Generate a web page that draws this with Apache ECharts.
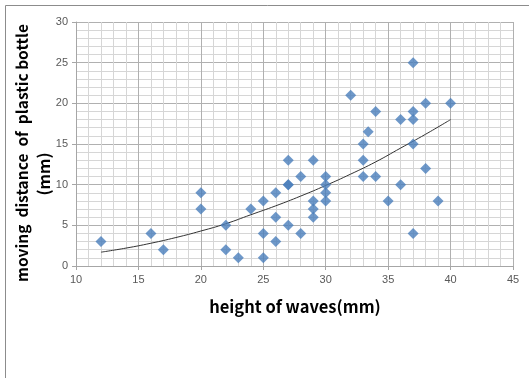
<!DOCTYPE html>
<html>
<head>
<meta charset="utf-8">
<script src="https://cdn.jsdelivr.net/npm/echarts@6/dist/echarts.min.js"></script>
<style>
  html, body { margin: 0; padding: 0; background: #fff; }
  #chart { width: 529px; height: 378px; }
</style>
</head>
<body>
<div id="chart"></div>
<script>
// wave height (mm) vs moving distance (mm)
const waveHeight = [12, 16, 17, 20, 20, 22, 22, 23, 24, 25, 25, 25, 26, 26, 26, 27, 27, 27, 27,
    28, 28, 29, 29, 29, 29, 30, 30, 30, 30, 32, 33, 33, 33, 33.4, 34, 34, 35, 36, 36,
    37, 37, 37, 37, 37, 38, 38, 39, 40];
const movingDistance = [3, 4, 2, 9, 7, 5, 2, 1, 7, 8, 4, 1, 9, 6, 3, 13, 10, 10, 5,
    11, 4, 13, 8, 7, 6, 11, 10, 9, 8, 21, 15, 13, 11, 16.5, 19, 11, 8, 18, 10,
    25, 19, 18, 15, 4, 20, 12, 8, 20];

// trend line as drawn in the picture
const trendX = [12, 14, 16, 18, 20, 22, 24, 26, 28, 30, 32, 34, 36, 38, 40];
const trendY = [1.7, 2.2, 2.8, 3.5, 4.3, 5.2, 6.3, 7.4, 8.6, 9.9, 11.3, 12.8, 14.5, 16.2, 18.0];

const xTicks = [10, 15, 20, 25, 30, 35, 40, 45];
const yTicks = [0, 5, 10, 15, 20, 25, 30];

const titleFont = '"Noto Sans CJK JP", "DejaVu Sans", sans-serif';

const myChart = echarts.init(document.getElementById('chart'));

const option = {
    animation: false,
    backgroundColor: '#fff',
    grid: {
        left: 76,
        right: 16,
        top: 22,
        bottom: 112
    },
    xAxis: {
        type: 'value',
        min: xTicks[0],
        max: xTicks[xTicks.length - 1],
        interval: 5,
        axisLine: { show: true, lineStyle: { color: '#a6a6a6', width: 1 } },
        axisTick: { show: true, length: 4, lineStyle: { color: '#a6a6a6' } },
        axisLabel: { color: '#595959', fontSize: 11, margin: 8, fontFamily: 'Liberation Sans' },
        splitLine: { show: true, lineStyle: { color: '#b0b0b0', width: 1 } },
        minorTick: { show: false, splitNumber: 5 },
        minorSplitLine: { show: true, lineStyle: { color: '#d6d6d6', width: 1 } }
    },
    yAxis: {
        type: 'value',
        min: yTicks[0],
        max: yTicks[yTicks.length - 1],
        interval: 5,
        axisLine: { show: true, lineStyle: { color: '#a6a6a6', width: 1 } },
        axisTick: { show: true, length: 4, lineStyle: { color: '#a6a6a6' } },
        axisLabel: { color: '#595959', fontSize: 11, margin: 8, fontFamily: 'Liberation Sans' },
        splitLine: { show: true, lineStyle: { color: '#b0b0b0', width: 1 } },
        minorTick: { show: false, splitNumber: 5 },
        minorSplitLine: { show: true, lineStyle: { color: '#d6d6d6', width: 1 } }
    },
    series: [
        {
            type: 'line',
            data: trendX.map((x, i) => [x, trendY[i]]),
            smooth: true,
            showSymbol: false,
            lineStyle: { color: '#333', width: 1 },
            z: 3
        },
        {
            type: 'scatter',
            data: waveHeight.map((x, i) => [x, movingDistance[i]]),
            symbol: 'diamond',
            symbolSize: 11,
            itemStyle: { color: '#4a7ebb' },
            z: 4
        }
    ],
    graphic: [
        {
            type: 'rect',
            shape: { x: 5.5, y: 5.5, width: 540, height: 400 },
            style: { fill: 'none', stroke: '#8c8c8c', lineWidth: 1 },
            silent: true
        },
        {
            type: 'text',
            x: 295,
            y: 307,
            style: {
                text: 'height of waves(mm)',
                font: 'bold 16.5px ' + titleFont,
                fill: '#000',
                align: 'center',
                verticalAlign: 'middle'
            }
        },
        {
            type: 'text',
            x: 22,
            y: 153,
            rotation: Math.PI / 2,
            style: {
                text: 'moving  distance  of  plastic bottle',
                font: 'bold 15.5px ' + titleFont,
                fill: '#000',
                align: 'center',
                verticalAlign: 'middle'
            }
        },
        {
            type: 'text',
            x: 44,
            y: 174,
            rotation: Math.PI / 2,
            style: {
                text: '(mm)',
                font: 'bold 16px ' + titleFont,
                fill: '#000',
                align: 'center',
                verticalAlign: 'middle'
            }
        }
    ]
};

myChart.setOption(option);
</script>
</body>
</html>
